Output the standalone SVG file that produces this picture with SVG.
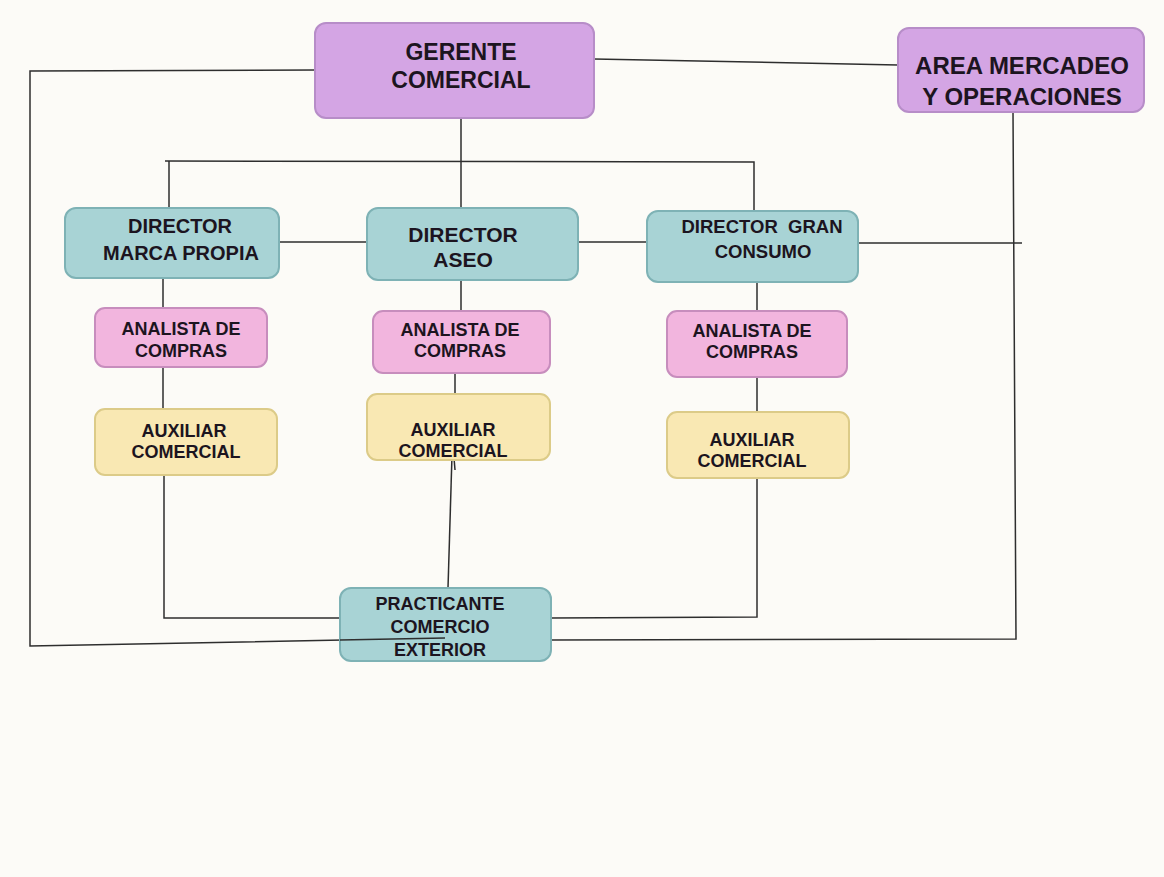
<svg xmlns="http://www.w3.org/2000/svg" width="1164" height="877" viewBox="0 0 1164 877">
<style>
.bg{fill:#fcfbf7}
.lav{fill:#d4a5e4;stroke:#b78dc8;stroke-width:2}
.teal{fill:#a8d3d5;stroke:#7eb2b5;stroke-width:2}
.pink{fill:#f2b5de;stroke:#c78dbd;stroke-width:2}
.yel{fill:#f9e8b3;stroke:#dccb88;stroke-width:2}
text{font-family:"Liberation Sans",Arial,sans-serif;font-weight:700;fill:#1c1420;text-anchor:middle}
.conn line,.conn polyline{stroke:#2e2e2e;stroke-width:1.5;fill:none}
</style>
<rect class="bg" x="0" y="0" width="1164" height="877"/>
<g class="conn" id="connectors">
<polyline points="316,70 30,71 30,646 445,638"/>
<line x1="594" y1="59" x2="898" y2="65"/>
<line x1="461" y1="118" x2="461" y2="208"/>
<polyline points="165,161 754,162 754,211"/>
<line x1="169" y1="161" x2="169" y2="208"/>
<line x1="279" y1="242" x2="367" y2="242"/>
<line x1="578" y1="242" x2="647" y2="242"/>
<line x1="858" y1="243" x2="1022" y2="243"/>
<polyline points="1013,112 1016,639 551,640"/>
<line x1="163" y1="278" x2="163" y2="308"/>
<line x1="163" y1="367" x2="163" y2="409"/>
<polyline points="164,475 164,618 340,618"/>
<line x1="461" y1="280" x2="461" y2="311"/>
<line x1="455" y1="373" x2="455" y2="394"/>
<line x1="452" y1="455" x2="448" y2="588"/>
<line x1="454" y1="458" x2="455" y2="470"/>
<line x1="757" y1="282" x2="757" y2="311"/>
<line x1="757" y1="377" x2="757" y2="412"/>
<polyline points="757,478 757,617 551,618"/>
</g>
<g id="gerente">
<rect class="lav" x="315" y="23" width="279" height="95" rx="11"/>
<text x="461" y="60" font-size="23">GERENTE</text>
<text x="461" y="88" font-size="23">COMERCIAL</text>
</g>
<g id="area">
<rect class="lav" x="898" y="28" width="246" height="84" rx="11"/>
<text x="1022" y="74" font-size="24">AREA MERCADEO</text>
<text x="1022" y="105" font-size="24">Y OPERACIONES</text>
</g>
<g id="dir-marca">
<rect class="teal" x="65" y="208" width="214" height="70" rx="11"/>
<text x="180" y="233" font-size="20">DIRECTOR</text>
<text x="181" y="260" font-size="20">MARCA PROPIA</text>
</g>
<g id="dir-aseo">
<rect class="teal" x="367" y="208" width="211" height="72" rx="11"/>
<text x="463" y="242" font-size="21">DIRECTOR</text>
<text x="463" y="267" font-size="21">ASEO</text>
</g>
<g id="dir-gran">
<rect class="teal" x="647" y="211" width="211" height="71" rx="11"/>
<text x="762" y="233" font-size="18.5" xml:space="preserve">DIRECTOR  GRAN</text>
<text x="763" y="258" font-size="18.5">CONSUMO</text>
</g>
<g id="analista-1">
<rect class="pink" x="95" y="308" width="172" height="59" rx="10"/>
<text x="181" y="335" font-size="18">ANALISTA DE</text>
<text x="181" y="357" font-size="18">COMPRAS</text>
</g>
<g id="analista-2">
<rect class="pink" x="373" y="311" width="177" height="62" rx="10"/>
<text x="460" y="336" font-size="18">ANALISTA DE</text>
<text x="460" y="357" font-size="18">COMPRAS</text>
</g>
<g id="analista-3">
<rect class="pink" x="667" y="311" width="180" height="66" rx="10"/>
<text x="752" y="337" font-size="18">ANALISTA DE</text>
<text x="752" y="358" font-size="18">COMPRAS</text>
</g>
<g id="auxiliar-1">
<rect class="yel" x="95" y="409" width="182" height="66" rx="10"/>
<text x="184" y="437" font-size="18">AUXILIAR</text>
<text x="186" y="458" font-size="18">COMERCIAL</text>
</g>
<g id="auxiliar-2">
<rect class="yel" x="367" y="394" width="183" height="66" rx="10"/>
<text x="453" y="436" font-size="18">AUXILIAR</text>
<text x="453" y="457" font-size="18">COMERCIAL</text>
</g>
<g id="auxiliar-3">
<rect class="yel" x="667" y="412" width="182" height="66" rx="10"/>
<text x="752" y="446" font-size="18">AUXILIAR</text>
<text x="752" y="467" font-size="18">COMERCIAL</text>
</g>
<g id="practicante">
<rect class="teal" x="340" y="588" width="211" height="73" rx="11"/>
<text x="440" y="610" font-size="18">PRACTICANTE</text>
<text x="440" y="633" font-size="18">COMERCIO</text>
<text x="440" y="656" font-size="18">EXTERIOR</text>
</g>
<line x1="340" y1="640" x2="445" y2="638" stroke="#2e2e2e" stroke-width="1.5"/>
</svg>
